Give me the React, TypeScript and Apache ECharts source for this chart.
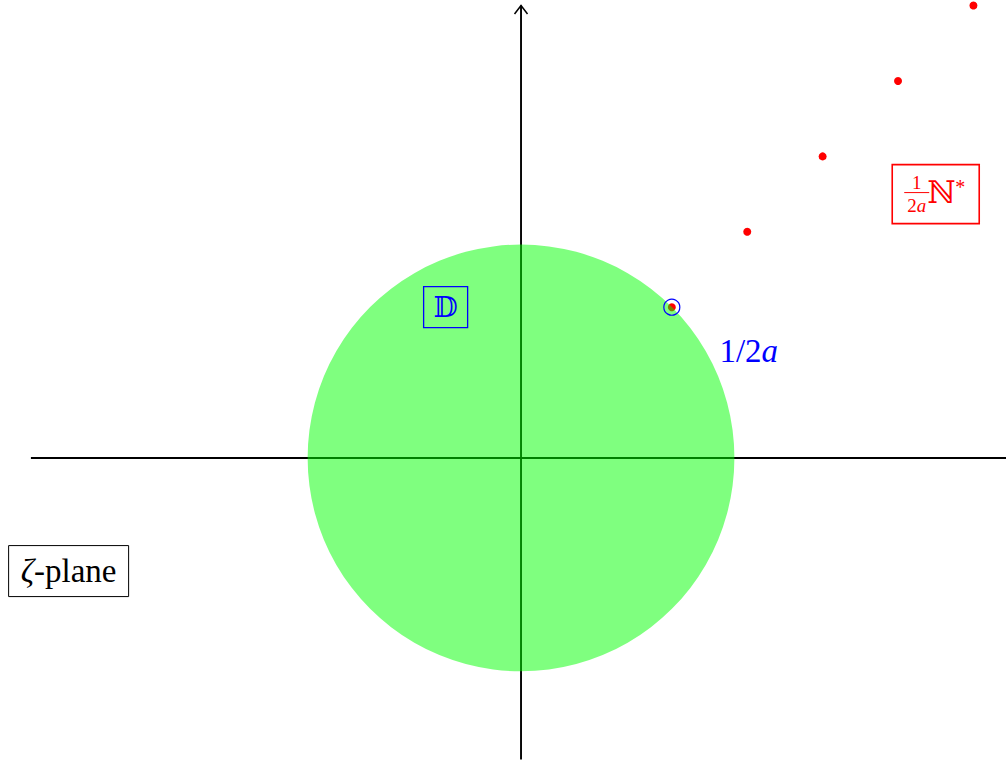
import React, { useEffect, useRef } from 'react';
import * as echarts from 'echarts';

// Data (in plane units)
const pointsX = [2, 3, 4, 5, 6];
const pointsY = [2, 3, 4, 5, 6];
const markedPoint = [2, 2];
const discCenter = [0, 0];
const discRadius = 2.83;
const xAxisSpan = [-6.5, 6.6];
const yAxisSpan = [-4, 6];
const viewX = [-6.91, 6.432];
const viewY = [-4.032, 6.074];

// Annotation anchors (plane units)
const diskLabelAt = [-1.0, 2.0];
const radiusLabelAt = [3.02, 1.42];
const latticeLabelAt = [5.5, 3.5];
const planeLabelAt = [-6.0, -1.5];

const SERIF = '"Liberation Serif", "DejaVu Serif", serif';

export default function App() {
  const ref = useRef<HTMLDivElement>(null);
  useEffect(() => {
    if (!ref.current) return;
    const chart = echarts.init(ref.current, undefined, { renderer: 'svg' });
    const hiddenAxis = (mm: number[]) => ({
      type: 'value' as const,
      min: mm[0],
      max: mm[1],
      axisLine: { show: false },
      axisTick: { show: false },
      axisLabel: { show: false },
      splitLine: { show: false },
    });
    chart.setOption({
      animation: false,
      backgroundColor: '#ffffff',
      grid: { left: 0, top: 0, width: 1006, height: 762, containLabel: false },
      xAxis: hiddenAxis(viewX),
      yAxis: hiddenAxis(viewY),
      series: [
        {
          type: 'custom',
          z: 1,
          silent: true,
          data: [[0, 0]],
          renderItem: (_p: any, api: any) => {
            const a = api.coord([xAxisSpan[0], 0]);
            const b = api.coord([xAxisSpan[1], 0]);
            const c = api.coord([0, yAxisSpan[0]]);
            const d = api.coord([0, yAxisSpan[1]]);
            const st = { stroke: '#000', lineWidth: 1.9 };
            return {
              type: 'group',
              children: [
                { type: 'line', shape: { x1: a[0], y1: a[1], x2: b[0], y2: b[1] }, style: st },
                { type: 'line', shape: { x1: c[0], y1: c[1], x2: d[0], y2: d[1] }, style: st },
                {
                  type: 'polyline',
                  shape: { points: [[d[0] - 6.5, d[1] + 8.5], [d[0], d[1]], [d[0] + 6.5, d[1] + 8.5]] },
                  style: { stroke: '#000', lineWidth: 1.5, fill: null },
                },
                {
                  type: 'polyline',
                  shape: { points: [[b[0] - 8.5, b[1] - 6.5], [b[0], b[1]], [b[0] - 8.5, b[1] + 6.5]] },
                  style: { stroke: '#000', lineWidth: 1.5, fill: null },
                },
              ],
            };
          },
        },
        {
          type: 'scatter',
          z: 2,
          silent: true,
          symbol: 'circle',
          symbolSize: 8,
          itemStyle: { color: '#ff0000', opacity: 1 },
          data: pointsX.map((x, i) => [x, pointsY[i]]),
        },
        {
          type: 'custom',
          z: 3,
          silent: true,
          data: [discCenter],
          renderItem: (_p: any, api: any) => {
            const c = api.coord(discCenter);
            const r = api.size([discRadius, 0])[0];
            return {
              type: 'circle',
              shape: { cx: c[0], cy: c[1], r },
              style: { fill: 'rgba(0,255,0,0.5)' },
            };
          },
        },
        {
          type: 'scatter',
          z: 4,
          silent: true,
          symbol: 'circle',
          symbolSize: 16,
          itemStyle: { color: 'rgba(0,0,0,0)', borderColor: '#0000ff', borderWidth: 1.2, opacity: 1 },
          data: [markedPoint],
        },
        {
          type: 'custom',
          z: 5,
          silent: true,
          data: [diskLabelAt, radiusLabelAt, latticeLabelAt, planeLabelAt],
          renderItem: (p: any, api: any) => {
            const i = p.dataIndex;
            if (i === 0) {
              const c = api.coord(diskLabelAt);
              return {
                type: 'group',
                children: [
                  { type: 'rect', shape: { x: c[0] - 22, y: c[1] - 20.5, width: 44, height: 41 }, style: { stroke: '#0000ff', lineWidth: 1.3, fill: null } },
                  { type: 'text', style: { text: '𝔻', x: c[0], y: c[1], fill: '#0000ff', fontSize: 28, fontFamily: SERIF, align: 'center', verticalAlign: 'middle' } },
                ],
              };
            }
            if (i === 1) {
              const c = api.coord(radiusLabelAt);
              return {
                type: 'text',
                style: {
                  text: '1/2{i|a}', x: c[0], y: c[1], fill: '#0000ff', fontSize: 33, fontFamily: SERIF,
                  align: 'center', verticalAlign: 'middle',
                  rich: { i: { fontStyle: 'italic', fontSize: 33, fontFamily: SERIF, fill: '#0000ff' } },
                },
              };
            }
            if (i === 2) {
              const c = api.coord(latticeLabelAt);
              return {
                type: 'group',
                children: [
                  { type: 'rect', shape: { x: c[0] - 43.5, y: c[1] - 29.5, width: 87, height: 59 }, style: { stroke: '#ff0000', lineWidth: 1.6, fill: null } },
                  { type: 'text', style: { text: '1', x: c[0] - 19, y: c[1] - 12, fill: '#ff0000', fontSize: 19, fontFamily: SERIF, align: 'center', verticalAlign: 'middle' } },
                  { type: 'line', shape: { x1: c[0] - 31.5, y1: c[1] - 1.5, x2: c[0] - 6.5, y2: c[1] - 1.5 }, style: { stroke: '#ff0000', lineWidth: 1 } },
                  {
                    type: 'text',
                    style: {
                      text: '2{i|a}', x: c[0] - 19, y: c[1] + 11, fill: '#ff0000', fontSize: 19, fontFamily: SERIF, align: 'center', verticalAlign: 'middle',
                      rich: { i: { fontStyle: 'italic', fontSize: 19, fontFamily: SERIF, fill: '#ff0000' } },
                    },
                  },
                  { type: 'text', style: { text: 'ℕ', x: c[0] + 6, y: c[1] - 1.5, fill: '#ff0000', fontSize: 31, fontFamily: SERIF, align: 'center', verticalAlign: 'middle' } },
                  { type: 'text', style: { text: '*', x: c[0] + 19.5, y: c[1] - 7, fill: '#ff0000', fontSize: 20, fontFamily: SERIF, align: 'left', verticalAlign: 'middle' } },
                ],
              };
            }
            const c = api.coord(planeLabelAt);
            return {
              type: 'group',
              children: [
                { type: 'rect', shape: { x: c[0] - 60, y: c[1] - 25.5, width: 120, height: 51 }, style: { stroke: '#000000', lineWidth: 1, fill: null } },
                {
                  type: 'text',
                  style: {
                    text: '{i|ζ}-plane', x: c[0], y: c[1], fill: '#000000', fontSize: 33, fontFamily: SERIF, align: 'center', verticalAlign: 'middle',
                    rich: { i: { fontStyle: 'italic', fontSize: 33, fontFamily: SERIF, fill: '#000000' } },
                  },
                },
              ],
            };
          },
        },
      ],
    });
    return () => chart.dispose();
  }, []);
  return <div ref={ref} style={{ position: 'fixed', left: 0, top: 0, width: 1006, height: 762 }} />;
}
